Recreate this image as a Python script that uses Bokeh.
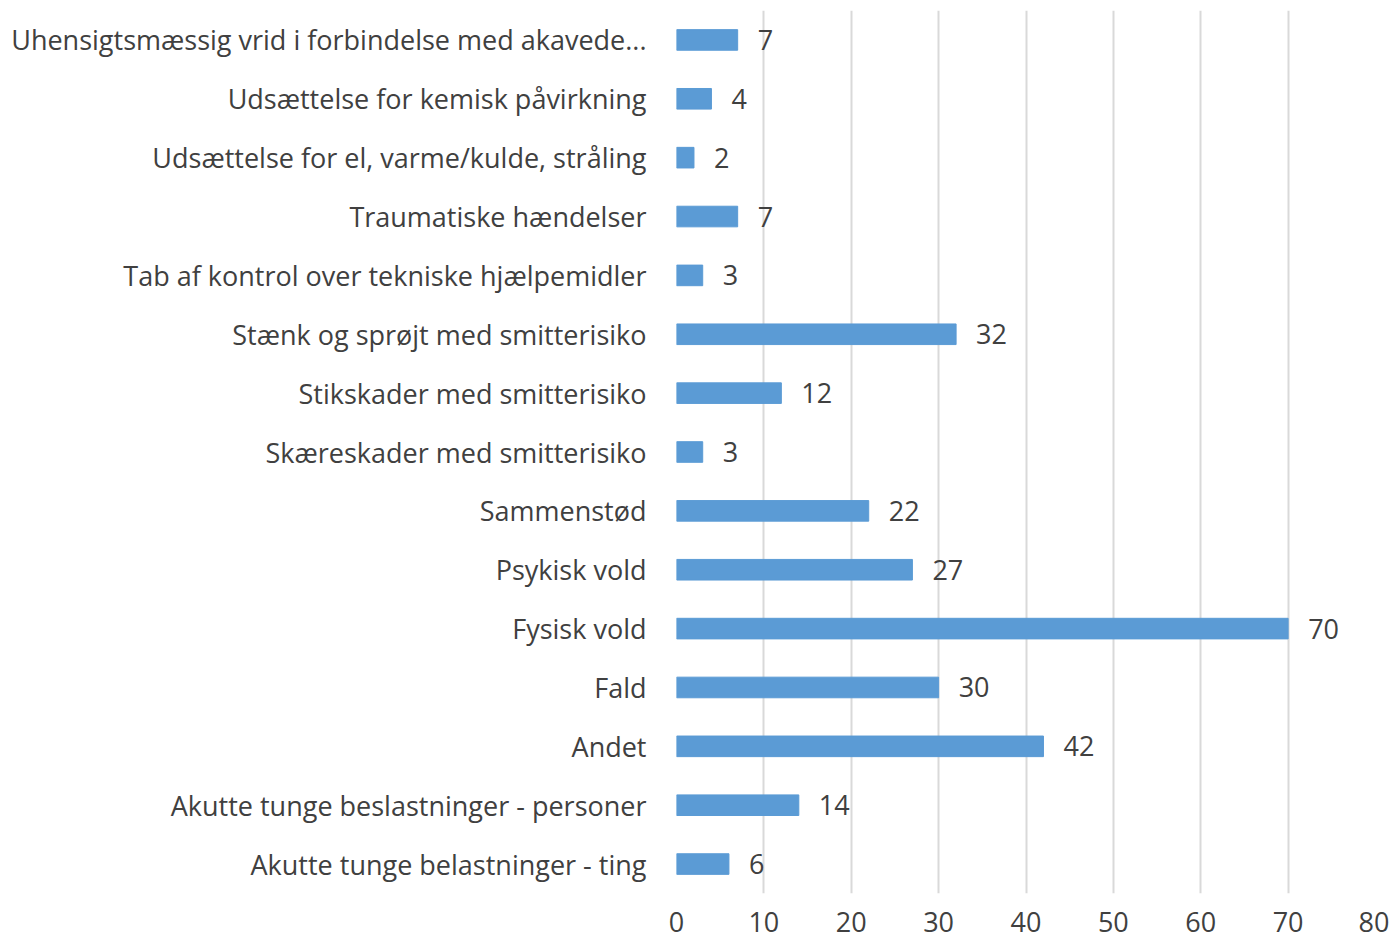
from bokeh.plotting import figure
from bokeh.models import ColumnDataSource, FactorRange, Range1d, FixedTicker
from bokeh.core.properties import value
from bokeh.embed import file_html
from bokeh.resources import INLINE

categories = [
    "Uhensigtsmæssig vrid i forbindelse med akavede...",
    "Udsættelse for kemisk påvirkning",
    "Udsættelse for el, varme/kulde, stråling",
    "Traumatiske hændelser",
    "Tab af kontrol over tekniske hjælpemidler",
    "Stænk og sprøjt med smitterisiko",
    "Stikskader med smitterisiko",
    "Skæreskader med smitterisiko",
    "Sammenstød",
    "Psykisk vold",
    "Fysisk vold",
    "Fald",
    "Andet",
    "Akutte tunge beslastninger - personer",
    "Akutte tunge belastninger - ting",
]
counts = [7, 4, 2, 7, 3, 32, 12, 3, 22, 27, 70, 30, 42, 14, 6]
x_ticks = [0, 10, 20, 30, 40, 50, 60, 70, 80]

FONT = "Open Sans"
TXT = "#404040"
FS = "27px"

src = ColumnDataSource(dict(cat=categories, val=counts, lab=[str(v) for v in counts]))

p = figure(
    width=1389, height=941,
    y_range=FactorRange(factors=list(reversed(categories)), range_padding=0),
    x_range=Range1d(0, 80),
    output_backend="svg", toolbar_location=None,
    min_border_left=676, min_border_right=14, min_border_top=10, min_border_bottom=48,
)
p.outline_line_color = None

p.hbar(y="cat", right="val", left=0, height=0.35, source=src,
       fill_color="#5B9BD5", line_color="#5B9BD5")
p.text(x="val", y="cat", text="lab", source=src, x_offset=20,
       text_align="left", text_baseline="middle",
       text_font=value(FONT), text_font_size=FS, text_color=TXT)

p.xaxis.ticker = FixedTicker(ticks=x_ticks)
p.xaxis.axis_line_color = None
p.xaxis.major_tick_line_color = None
p.xaxis.minor_tick_line_color = None
p.xaxis.major_label_standoff = 12
p.xaxis.major_label_text_font = FONT
p.xaxis.major_label_text_font_size = FS
p.xaxis.major_label_text_color = TXT

p.yaxis.axis_line_color = None
p.yaxis.major_tick_line_color = None
p.yaxis.major_label_standoff = 24
p.yaxis.major_label_text_font = FONT
p.yaxis.major_label_text_font_size = FS
p.yaxis.major_label_text_color = TXT

p.xgrid.grid_line_color = "#d9d9d9"
p.xgrid.grid_line_width = 2
p.ygrid.grid_line_color = None

open("out.html", "w").write(file_html(p, INLINE))
